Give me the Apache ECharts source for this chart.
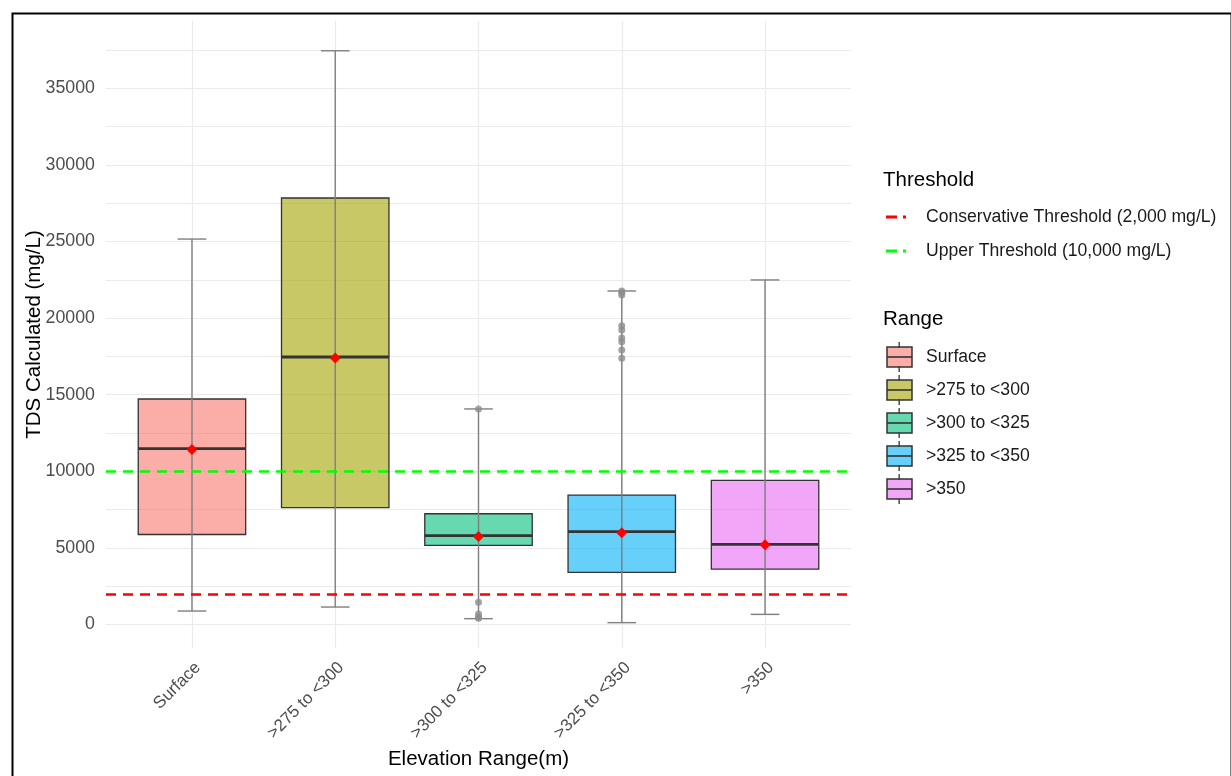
<!DOCTYPE html>
<html>
<head>
<meta charset="utf-8">
<script src="https://cdn.jsdelivr.net/npm/echarts@6/dist/echarts.min.js"></script>
<style>
  html, body { margin: 0; padding: 0; background: #fff; }
  #chart { width: 1231px; height: 776px; }
</style>
</head>
<body>
<div id="chart"></div>
<script>
// 分组与箱线图数值
const categories = ['Surface', '>275 to <300', '>300 to <325', '>325 to <350', '>350'];
const lowerWhisker = [880, 1140, 380, 120, 660];
const q1Values = [5875, 7625, 5170, 3400, 3620];
const medianValues = [11475, 17460, 5800, 6060, 5230];
const q3Values = [14720, 27840, 7230, 8450, 9410];
const upperWhisker = [25160, 37450, 14070, 21770, 22490];
const meanValues = [11430, 17400, 5750, 5990, 5200];
// 离群点
const outliers300 = [14070, 1450, 690, 480, 400];
const outliers325 = [21770, 21650, 21500, 19500, 19220, 18700, 18460, 17920, 17380];
// 阈值
const thresholdNames = ['Conservative Threshold (2,000 mg/L)', 'Upper Threshold (10,000 mg/L)'];
const thresholdValues = [2000, 10000];
const thresholdColors = ['#FF0000', '#00FF00'];
// 刻度
const yLabelTicks = [0, 5000, 10000, 15000, 20000, 25000, 30000, 35000];
const yGridTicks = [0, 2500, 5000, 7500, 10000, 12500, 15000, 17500, 20000, 22500, 25000, 27500, 30000, 32500, 35000, 37500];
const xTicks = [0, 1, 2, 3, 4];

const boxColors = ['#F8766D', '#A3A500', '#00BF7D', '#00B0F6', '#E76BF3'];
const FONT = '"Liberation Sans", Arial, sans-serif';

function alpha(hex, a) {
  const r = parseInt(hex.slice(1, 3), 16);
  const g = parseInt(hex.slice(3, 5), 16);
  const b = parseInt(hex.slice(5, 7), 16);
  return 'rgba(' + r + ',' + g + ',' + b + ',' + a + ')';
}

function svgIcon(body) {
  const svg = '<svg xmlns="http://www.w3.org/2000/svg" width="35" height="30" viewBox="0 0 35 30">' + body + '</svg>';
  return 'image://data:image/svg+xml;charset=utf-8,' + encodeURIComponent(svg);
}
function boxIcon(color) {
  return svgIcon(
    '<rect x="12.5" y="0" width="1.3" height="6" fill="#333"/>' +
    '<rect x="12.5" y="24" width="1.3" height="6" fill="#333"/>' +
    '<rect x="1" y="5" width="25" height="20" fill="' + alpha(color, 0.6) + '" stroke="#333" stroke-width="1.5"/>' +
    '<rect x="1" y="14.2" width="25" height="1.6" fill="#333"/>'
  );
}
function dashIcon(color) {
  return svgIcon(
    '<rect x="0" y="13.5" width="11" height="3" fill="' + color + '"/>' +
    '<rect x="17" y="13.5" width="3" height="3" fill="' + color + '"/>'
  );
}

function renderBox(params, api) {
  const x = api.value(0);
  const lo = api.coord([x, api.value(1)]);
  const q1 = api.coord([x, api.value(2)]);
  const md = api.coord([x, api.value(3)]);
  const q3 = api.coord([x, api.value(4)]);
  const hi = api.coord([x, api.value(5)]);
  const mn = api.coord([x, api.value(6)]);
  const half = api.size([0.75, 0])[0] / 2;
  const cap = api.size([0.2, 0])[0] / 2;
  const color = boxColors[params.seriesIndex];
  const d = 5.5;
  return {
    type: 'group',
    children: [
      {
        type: 'rect',
        shape: { x: q1[0] - half, y: q3[1], width: half * 2, height: q1[1] - q3[1] },
        style: { fill: alpha(color, 0.6), stroke: '#333333', lineWidth: 1.3 }
      },
      {
        type: 'line',
        shape: { x1: md[0] - half, y1: md[1], x2: md[0] + half, y2: md[1] },
        style: { stroke: '#333333', lineWidth: 2.8 }
      },
      {
        type: 'line',
        shape: { x1: lo[0], y1: lo[1], x2: hi[0], y2: hi[1] },
        style: { stroke: '#7F7F7F', lineWidth: 1.4 }
      },
      {
        type: 'line',
        shape: { x1: lo[0] - cap, y1: lo[1], x2: lo[0] + cap, y2: lo[1] },
        style: { stroke: '#7F7F7F', lineWidth: 1.4 }
      },
      {
        type: 'line',
        shape: { x1: hi[0] - cap, y1: hi[1], x2: hi[0] + cap, y2: hi[1] },
        style: { stroke: '#7F7F7F', lineWidth: 1.4 }
      },
      {
        type: 'polygon',
        shape: { points: [[mn[0], mn[1] - d], [mn[0] + d, mn[1]], [mn[0], mn[1] + d], [mn[0] - d, mn[1]]] },
        style: { fill: '#FF0000' }
      }
    ]
  };
}

const chart = echarts.init(document.getElementById('chart'));

const boxSeries = categories.map((name, i) => ({
  name: name,
  type: 'custom',
  renderItem: renderBox,
  itemStyle: { color: boxColors[i] },
  encode: { x: 0, y: [1, 2, 3, 4, 5] },
  z: 2,
  data: [[i, lowerWhisker[i], q1Values[i], medianValues[i], q3Values[i], upperWhisker[i], meanValues[i]]]
}));

const outlierData = outliers300.map(v => [2, v]).concat(outliers325.map(v => [3, v]));

const thresholdSeries = thresholdNames.map((name, i) => ({
  name: name,
  type: 'line',
  data: [],
  color: thresholdColors[i],
  z: 5,
  markLine: {
    silent: true,
    symbol: 'none',
    label: { show: false },
    lineStyle: { color: thresholdColors[i], type: [10, 7], width: 2.6 },
    data: [{ yAxis: thresholdValues[i] }]
  }
}));

const legendText = { fontSize: 17.6, color: '#1A1A1A', fontFamily: FONT };

const option = {
  animation: false,
  backgroundColor: '#fff',
  textStyle: { fontFamily: FONT },
  title: [
    { text: 'Threshold', left: 883, top: 170, padding: 0, textStyle: { fontSize: 20.5, fontWeight: 'normal', color: '#000', fontFamily: FONT } },
    { text: 'Range', left: 883, top: 309, padding: 0, textStyle: { fontSize: 20.5, fontWeight: 'normal', color: '#000', fontFamily: FONT } }
  ],
  legend: [
    {
      orient: 'vertical',
      left: 886,
      top: 202,
      padding: 0,
      itemWidth: 35,
      itemHeight: 30,
      itemGap: 4,
      selectedMode: false,
      textStyle: legendText,
      data: thresholdNames.map((n, i) => ({ name: n, icon: dashIcon(thresholdColors[i]) }))
    },
    {
      orient: 'vertical',
      left: 886,
      top: 342,
      padding: 0,
      itemWidth: 35,
      itemHeight: 30,
      itemGap: 3,
      selectedMode: false,
      textStyle: legendText,
      data: categories.map((n, i) => ({ name: n, icon: boxIcon(boxColors[i]) }))
    }
  ],
  grid: { left: 106, right: 380, top: 21, bottom: 128 },
  xAxis: {
    type: 'value',
    min: -0.6,
    max: 4.6,
    name: 'Elevation Range(m)',
    nameLocation: 'middle',
    nameGap: 101,
    nameTextStyle: { fontSize: 20.5, color: '#000', fontFamily: FONT },
    axisLine: { show: false },
    axisTick: { show: false, customValues: xTicks },
    axisLabel: {
      customValues: xTicks,
      rotate: 45,
      margin: 11,
      verticalAlign: 'top',
      fontSize: 17,
      color: '#4D4D4D',
      fontFamily: FONT,
      formatter: v => categories[Math.round(v)]
    },
    splitLine: { show: true, lineStyle: { color: '#EBEBEB', width: 1.2 } }
  },
  yAxis: {
    type: 'value',
    min: -1534,
    max: 39393,
    name: 'TDS Calculated (mg/L)',
    nameLocation: 'middle',
    nameGap: 61,
    nameMoveOverlap: false,
    nameTextStyle: { fontSize: 20.5, color: '#000', fontFamily: FONT },
    axisLine: { show: false },
    axisTick: { show: false, customValues: yGridTicks },
    axisLabel: {
      customValues: yLabelTicks,
      margin: 11,
      fontSize: 17.8,
      color: '#4D4D4D',
      fontFamily: FONT,
      formatter: v => String(v)
    },
    splitLine: { show: true, lineStyle: { color: '#EBEBEB', width: 1.2 } }
  },
  graphic: [
    {
      type: 'rect',
      left: 10,
      top: 11,
      silent: true,
      shape: { width: 1219, height: 800 },
      style: { fill: 'none', stroke: '#000', lineWidth: 2 }
    }
  ],
  series: boxSeries.concat([
    {
      name: 'outliers',
      type: 'scatter',
      symbol: 'circle',
      symbolSize: 7,
      itemStyle: { color: '#8C8C8C' },
      z: 3,
      data: outlierData
    }
  ]).concat(thresholdSeries)
};

chart.setOption(option);
</script>
</body>
</html>
